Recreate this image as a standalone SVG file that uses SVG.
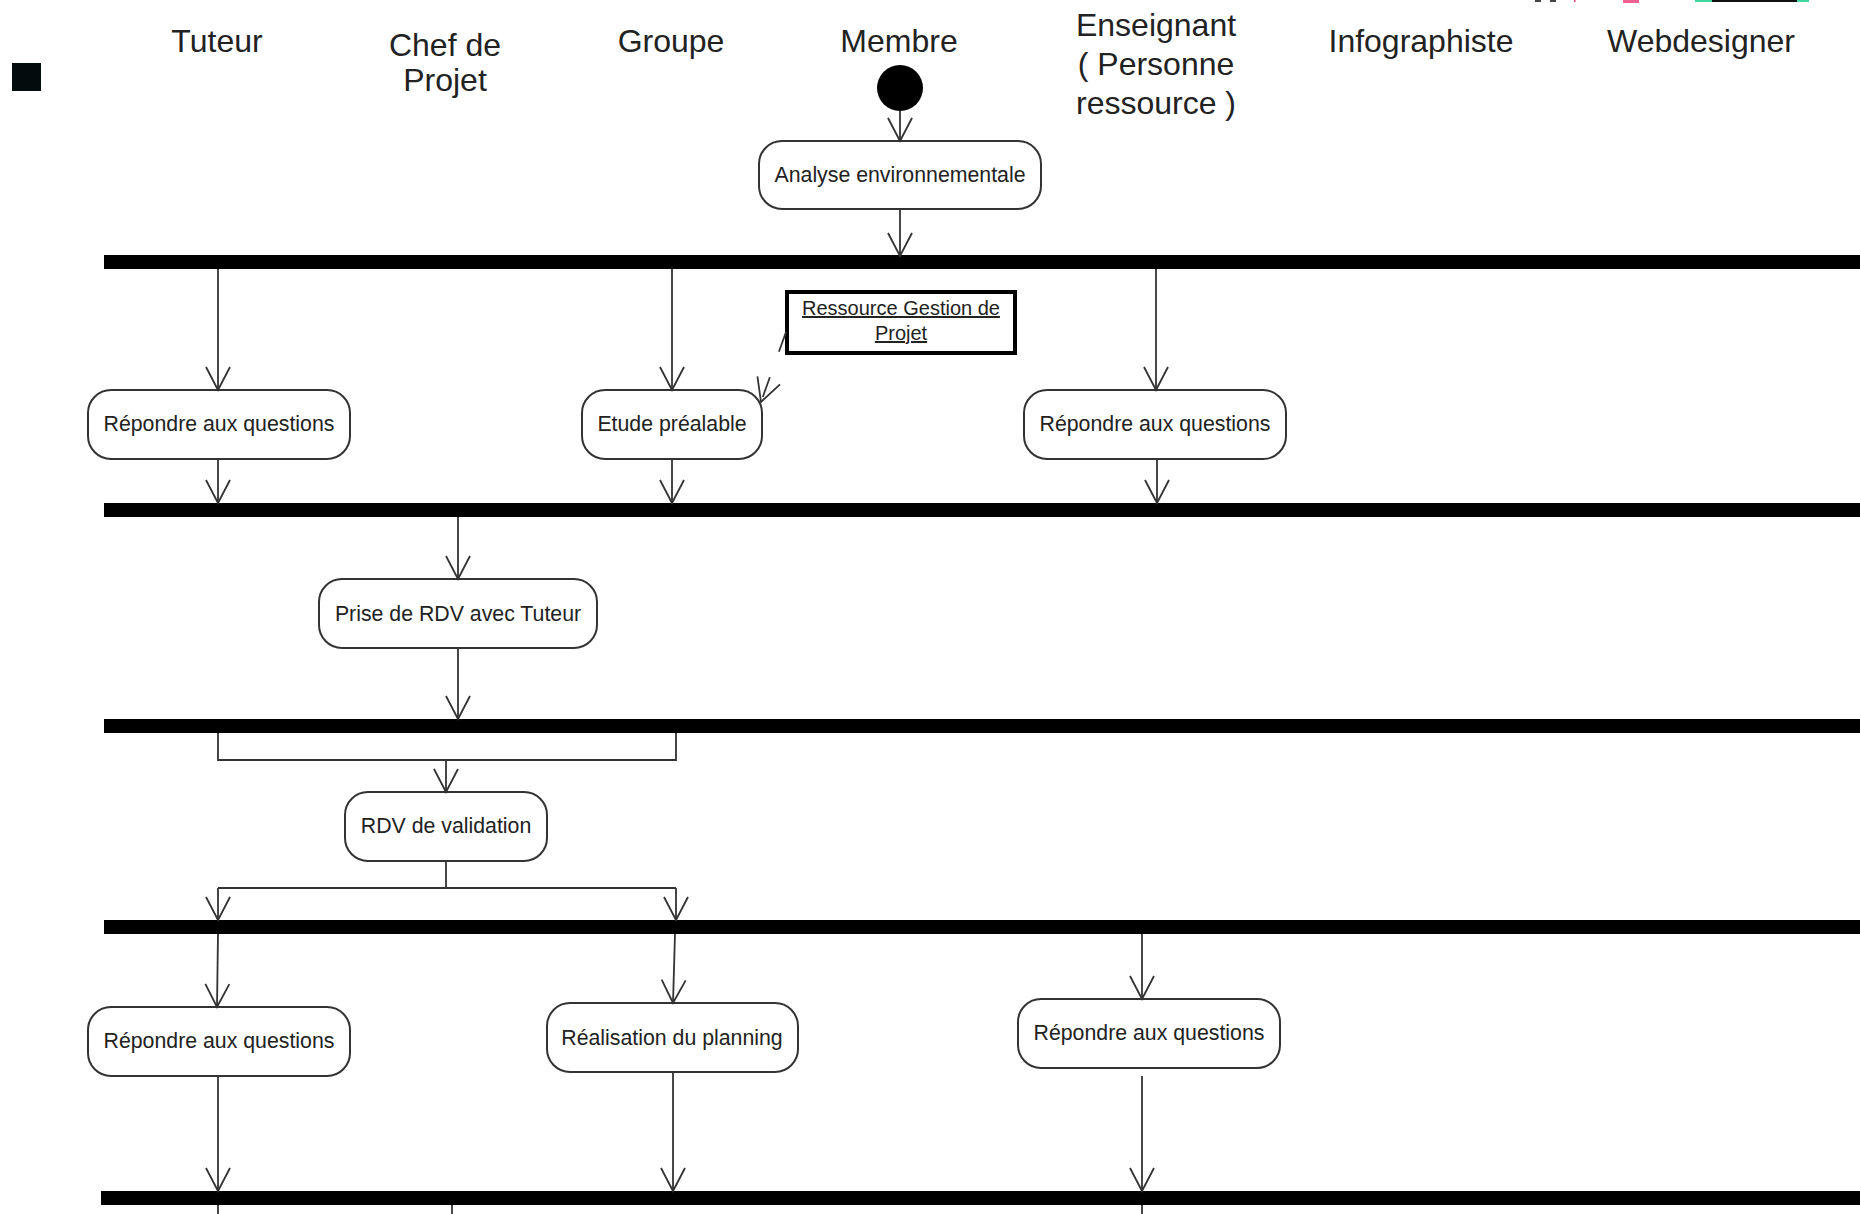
<svg xmlns="http://www.w3.org/2000/svg" width="1860" height="1214" viewBox="0 0 1860 1214">
<style>
  .hdr { font-family: "Liberation Sans", Arial, sans-serif; font-size: 32px; fill: #222; text-anchor: middle; }
  .act rect { fill: #fff; stroke: #333; stroke-width: 2; }
  .act text { font-family: "Liberation Sans", Arial, sans-serif; font-size: 21.3px; fill: #222; text-anchor: middle; }
  .bar { fill: #000; }
  .conn line, .conn polyline { stroke: #333; stroke-width: 1.8; fill: none; }
  .note rect { fill: #fff; stroke: #000; stroke-width: 4; }
  .note text { font-family: "Liberation Sans", Arial, sans-serif; font-size: 20px; fill: #222; text-anchor: middle; text-decoration: underline; }
</style>
<defs>
  <marker id="open" markerUnits="userSpaceOnUse" markerWidth="40" markerHeight="40" refX="0" refY="0" orient="auto" overflow="visible">
    <path d="M -23 -12 L 0 0 L -23 12" fill="none" stroke="#333" stroke-width="1.8"/>
  </marker>
</defs>
<rect width="1860" height="1214" fill="#fff"/>

<!-- artifacts top right -->
<g id="artifacts">
  <rect x="1535" y="0" width="6" height="2" fill="#444"/>
  <rect x="1550" y="0" width="6" height="2" fill="#444"/>
  <rect x="1574" y="0" width="1.5" height="2" fill="#e0407a"/>
  <rect x="1623" y="0" width="16" height="3" fill="#f06090"/>
  <rect x="1695" y="0" width="114" height="2" fill="#40d8a0"/>
  <rect x="1712" y="0" width="85" height="2" fill="#111"/>
</g>

<rect id="square" x="12" y="63" width="29" height="28" fill="#030c0c"/>

<g id="headers">
  <text class="hdr" x="217" y="52">Tuteur</text>
  <text class="hdr" x="445" y="56">Chef de</text>
  <text class="hdr" x="445" y="91">Projet</text>
  <text class="hdr" x="671" y="52">Groupe</text>
  <text class="hdr" x="899" y="52">Membre</text>
  <text class="hdr" x="1156" y="36">Enseignant</text>
  <text class="hdr" x="1156" y="75">( Personne</text>
  <text class="hdr" x="1156" y="114">ressource )</text>
  <text class="hdr" x="1421" y="52">Infographiste</text>
  <text class="hdr" x="1701" y="52">Webdesigner</text>
</g>

<g id="start"><circle cx="900" cy="88" r="23" fill="#000"/></g>

<g id="bar1"><rect class="bar" x="104" y="255" width="1756" height="14"/></g>
<g id="bar2"><rect class="bar" x="104" y="503" width="1756" height="14"/></g>
<g id="bar3"><rect class="bar" x="104" y="719" width="1756" height="14"/></g>
<g id="bar4"><rect class="bar" x="104" y="920" width="1756" height="14"/></g>
<g id="bar5"><rect class="bar" x="101" y="1191" width="1759" height="14"/></g>

<g id="analyse" class="act"><rect x="759" y="141" width="282" height="68" rx="23"/><text x="900" y="182">Analyse environnementale</text></g>
<g id="rep1" class="act"><rect x="88" y="390" width="262" height="69" rx="23"/><text x="219" y="431">Répondre aux questions</text></g>
<g id="etude" class="act"><rect x="582" y="390" width="180" height="69" rx="23"/><text x="672" y="431">Etude préalable</text></g>
<g id="repEns1" class="act"><rect x="1024" y="390" width="262" height="69" rx="23"/><text x="1155" y="431">Répondre aux questions</text></g>
<g id="prise" class="act"><rect x="319" y="579" width="278" height="69" rx="23"/><text x="458" y="621">Prise de RDV avec Tuteur</text></g>
<g id="rdv" class="act"><rect x="345" y="792" width="202" height="69" rx="23"/><text x="446" y="833">RDV de validation</text></g>
<g id="rep3" class="act"><rect x="88" y="1007" width="262" height="69" rx="23"/><text x="219" y="1048">Répondre aux questions</text></g>
<g id="realisation" class="act"><rect x="547" y="1003" width="251" height="69" rx="23"/><text x="672" y="1045">Réalisation du planning</text></g>
<g id="repEns3" class="act"><rect x="1018" y="999" width="262" height="69" rx="23"/><text x="1149" y="1040">Répondre aux questions</text></g>

<g id="note" class="note"><rect x="787" y="292" width="228" height="61"/><text x="901" y="315">Ressource Gestion de</text><text x="901" y="340">Projet</text></g>

<g id="connectors" class="conn">
  <line x1="900" y1="111" x2="900" y2="141" marker-end="url(#open)"/>
  <line x1="900" y1="209" x2="900" y2="256" marker-end="url(#open)"/>
  <line x1="218" y1="269" x2="218" y2="390" marker-end="url(#open)"/>
  <line x1="672" y1="269" x2="672" y2="390" marker-end="url(#open)"/>
  <line x1="1156" y1="269" x2="1156" y2="390" marker-end="url(#open)"/>
  <line x1="218" y1="459" x2="218" y2="503" marker-end="url(#open)"/>
  <line x1="672" y1="459" x2="672" y2="503" marker-end="url(#open)"/>
  <line x1="1157" y1="459" x2="1157" y2="503" marker-end="url(#open)"/>
  <line x1="786" y1="332" x2="761" y2="402" stroke-dasharray="21 27" marker-end="url(#open)"/>
  <line x1="458" y1="517" x2="458" y2="579" marker-end="url(#open)"/>
  <line x1="458" y1="648" x2="458" y2="719" marker-end="url(#open)"/>
  <polyline points="218,733 218,760 676,760 676,733"/>
  <line x1="446" y1="760" x2="446" y2="792" marker-end="url(#open)"/>
  <line x1="446" y1="861" x2="446" y2="888"/>
  <line x1="218" y1="888" x2="676" y2="888"/>
  <line x1="218" y1="888" x2="218" y2="920" marker-end="url(#open)"/>
  <line x1="676" y1="888" x2="676" y2="920" marker-end="url(#open)"/>
  <line x1="218" y1="934" x2="217" y2="1007" marker-end="url(#open)"/>
  <line x1="675" y1="934" x2="673" y2="1003" marker-end="url(#open)"/>
  <line x1="1142" y1="934" x2="1142" y2="999" marker-end="url(#open)"/>
  <line x1="218" y1="1076" x2="218" y2="1191" marker-end="url(#open)"/>
  <line x1="673" y1="1072" x2="673" y2="1191" marker-end="url(#open)"/>
  <line x1="1142" y1="1076" x2="1142" y2="1191" marker-end="url(#open)"/>
  <line x1="218" y1="1205" x2="218" y2="1214"/>
  <line x1="452" y1="1205" x2="452" y2="1214"/>
  <line x1="1142" y1="1205" x2="1142" y2="1214"/>
</g>
</svg>
